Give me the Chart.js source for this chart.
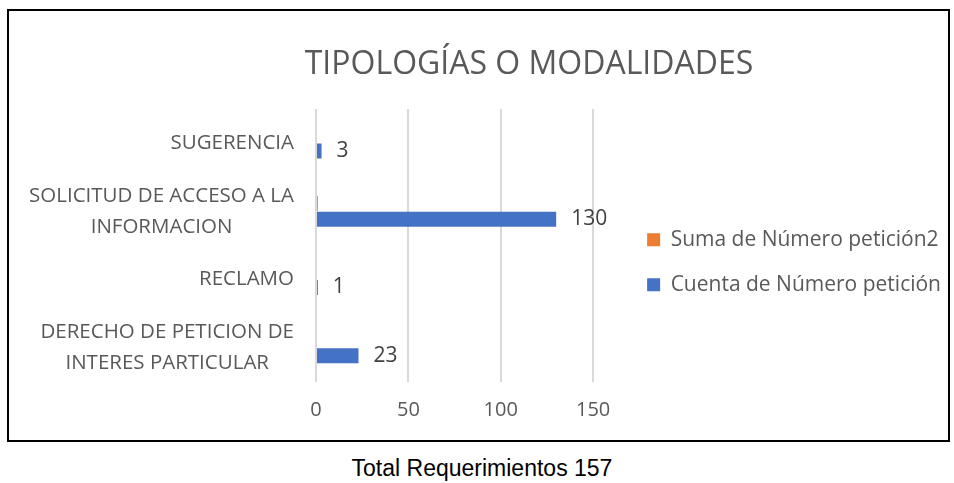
<!DOCTYPE html>
<html>
<head>
<meta charset="utf-8">
<script src="https://cdn.jsdelivr.net/npm/chart.js@4"></script>
<style>
  body { margin: 0; background: #fff; width: 954px; height: 483px; position: relative; overflow: hidden; font-family: 'Open Sans', sans-serif; }
  #frame { position: absolute; left: 7px; top: 9px; width: 943px; height: 433px; border: 2px solid #000; box-sizing: border-box; }
  #title { position: absolute; left: 229px; top: 40px; width: 600px; text-align: center; font-size: 32px; line-height: 44px; color: #595959; }
  #wrap { position: absolute; left: 9px; top: 11px; width: 939px; height: 429px; }
  #caption { position: absolute; left: 232px; top: 455px; width: 500px; text-align: center; font-family: 'Liberation Sans', Arial, sans-serif; font-size: 23px; line-height: 26px; color: #000; }
</style>
</head>
<body>
<div id="frame"></div>
<div id="wrap"><canvas id="chart"></canvas></div>
<div id="title">TIPOLOGÍAS O MODALIDADES</div>
<div id="caption">Total Requerimientos 157</div>
<script>
// categories, top to bottom as in the picture
const categories = [
  'SUGERENCIA',
  ['SOLICITUD DE ACCESO A LA', 'INFORMACION'],
  'RECLAMO',
  ['DERECHO DE PETICION DE', 'INTERES PARTICULAR']
];
const sumaPeticion2  = [0, 1, 0, 0];
const cuentaPeticion = [3, 130, 1, 23];
const xTicks = [0, 50, 100, 150];

Chart.defaults.font.family = '"Open Sans", sans-serif';

// value labels to the right of the blue bars
const barValueLabels = {
  id: 'barValueLabels',
  afterDatasetsDraw(chart) {
    const ctx = chart.ctx;
    const meta = chart.getDatasetMeta(1);
    ctx.save();
    ctx.font = '21px "Open Sans", sans-serif';
    ctx.fillStyle = '#404040';
    ctx.textAlign = 'left';
    ctx.textBaseline = 'middle';
    meta.data.forEach((bar, i) => {
      ctx.fillText(String(cuentaPeticion[i]), bar.x + 15, bar.y);
    });
    ctx.restore();
  }
};

// category labels like Excel: block right-aligned, wrapped lines centred in the block
const categoryLabels = {
  id: 'categoryLabels',
  afterDraw(chart) {
    const ctx = chart.ctx;
    const y = chart.scales.y;
    const right = y.right - 22;
    const lineH = 31;
    ctx.save();
    ctx.font = '20.5px "Open Sans", sans-serif';
    ctx.fillStyle = '#595959';
    ctx.textAlign = 'center';
    ctx.textBaseline = 'middle';
    categories.forEach((label, i) => {
      const lines = Array.isArray(label) ? label : [label];
      const w = Math.max(...lines.map(l => ctx.measureText(l).width));
      const cx = right - w / 2;
      const cy = y.getPixelForTick(i);
      lines.forEach((l, k) => {
        ctx.fillText(l, cx, cy + (k - (lines.length - 1) / 2) * lineH);
      });
    });
    ctx.restore();
  }
};

new Chart(document.getElementById('chart'), {
  type: 'bar',
  data: {
    labels: categories,
    datasets: [
      {
        label: 'Suma de Número petición2',
        data: sumaPeticion2,
        backgroundColor: '#ED7D31',
        categoryPercentage: 0.46,
        barPercentage: 0.96
      },
      {
        label: 'Cuenta de Número petición',
        data: cuentaPeticion,
        backgroundColor: '#4472C4',
        categoryPercentage: 0.46,
        barPercentage: 0.96
      }
    ]
  },
  options: {
    indexAxis: 'y',
    responsive: true,
    maintainAspectRatio: false,
    animation: false,
    layout: { padding: { top: 98, right: -3, bottom: 0, left: 0 } },
    plugins: {
      tooltip: { enabled: false },
      legend: {
        position: 'right',
        align: 'start',
        maxWidth: 400,
        // empty title only pushes the items down to where they sit in the picture
        title: { display: true, text: '', font: { size: 1 }, padding: { top: 95, bottom: 0 } },
        labels: { boxWidth: 13, boxHeight: 13, color: '#595959', font: { size: 21 }, padding: 24 }
      }
    },
    scales: {
      x: {
        min: 0,
        max: 150,
        afterBuildTicks: s => { s.ticks = xTicks.map(v => ({ value: v })); },
        afterFit: s => { s.height = 58; },
        ticks: { color: '#595959', font: { size: 20 }, padding: 16 },
        grid: { color: '#D9D9D9', lineWidth: 2, drawTicks: false },
        border: { display: false }
      },
      y: {
        afterFit: s => { s.width = 307; },
        ticks: { display: false },
        grid: { display: false, drawTicks: false },
        border: { display: false }
      },
      gap: {
        type: 'linear',
        axis: 'y',
        position: 'right',
        afterFit: s => { s.width = 30; },
        ticks: { display: false },
        grid: { display: false },
        border: { display: false }
      }
    }
  },
  plugins: [barValueLabels, categoryLabels]
});
</script>
</body>
</html>
